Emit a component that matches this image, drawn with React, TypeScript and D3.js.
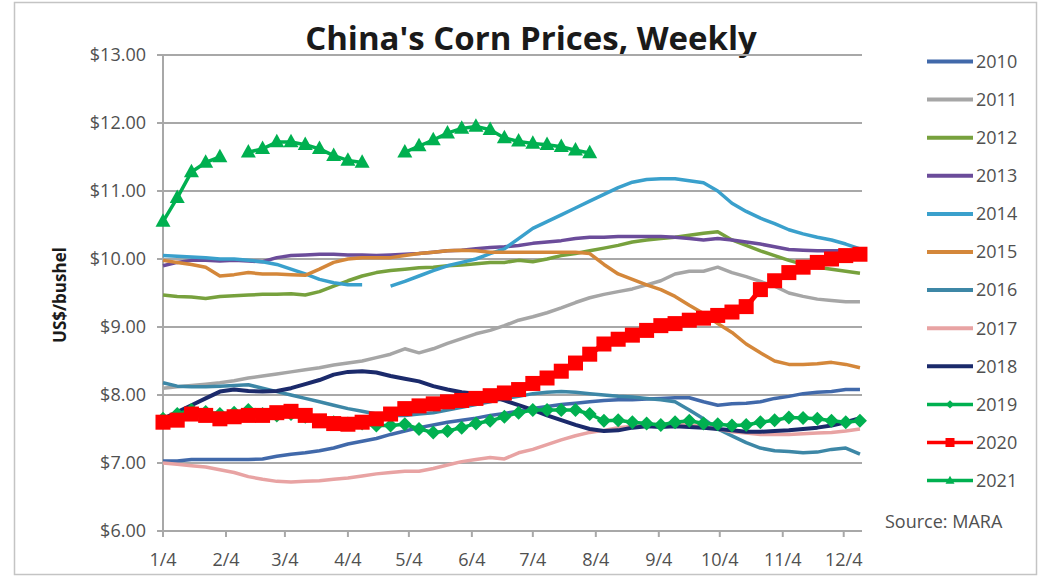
import React from "react";
import * as d3 from "d3";

// ---------- data ----------
const years = ["2010", "2011", "2012", "2013", "2014", "2015", "2016", "2017", "2018", "2019", "2020", "2021"];
const yTicks = [6, 7, 8, 9, 10, 11, 12, 13];
const xTickLabels = ["1/4", "2/4", "3/4", "4/4", "5/4", "6/4", "7/4", "8/4", "9/4", "10/4", "11/4", "12/4"];
const title = "China's Corn Prices, Weekly";
const yTitle = "US$/bushel";
const source = "Source: MARA";

// weekly values starting Jan 4 (50 weeks)
const s2010 = [7.03, 7.03, 7.05, 7.05, 7.05, 7.05, 7.05, 7.06, 7.1, 7.13, 7.15, 7.18, 7.22, 7.28, 7.32, 7.36, 7.42, 7.47, 7.52, 7.56, 7.6, 7.63, 7.66, 7.7, 7.73, 7.76, 7.8, 7.83, 7.86, 7.88, 7.9, 7.92, 7.93, 7.93, 7.94, 7.95, 7.96, 7.96, 7.9, 7.85, 7.87, 7.88, 7.9, 7.95, 7.98, 8.02, 8.04, 8.05, 8.08, 8.08];
const s2011 = [8.1, 8.12, 8.14, 8.16, 8.18, 8.21, 8.25, 8.28, 8.31, 8.34, 8.37, 8.4, 8.44, 8.47, 8.5, 8.55, 8.6, 8.68, 8.62, 8.68, 8.76, 8.83, 8.9, 8.95, 9.02, 9.1, 9.15, 9.21, 9.28, 9.36, 9.43, 9.48, 9.52, 9.56, 9.62, 9.68, 9.78, 9.82, 9.82, 9.88, 9.8, 9.74, 9.67, 9.6, 9.5, 9.45, 9.41, 9.39, 9.37, 9.37];
const s2012 = [9.47, 9.45, 9.44, 9.42, 9.45, 9.46, 9.47, 9.48, 9.48, 9.49, 9.47, 9.52, 9.6, 9.68, 9.75, 9.8, 9.83, 9.85, 9.87, 9.88, 9.9, 9.91, 9.93, 9.95, 9.95, 9.98, 9.96, 10.0, 10.05, 10.08, 10.12, 10.16, 10.2, 10.25, 10.28, 10.3, 10.32, 10.35, 10.38, 10.4, 10.28, 10.2, 10.12, 10.05, 9.98, 9.92, 9.88, 9.85, 9.82, 9.79];
const s2013 = [9.9, 9.95, 9.98, 9.98, 9.97, 9.98, 9.97, 9.96, 10.02, 10.05, 10.06, 10.07, 10.07, 10.06, 10.06, 10.05, 10.06, 10.07, 10.08, 10.1, 10.12, 10.13, 10.15, 10.17, 10.18, 10.2, 10.23, 10.25, 10.27, 10.3, 10.32, 10.32, 10.33, 10.33, 10.33, 10.33, 10.32, 10.3, 10.28, 10.3, 10.28, 10.25, 10.22, 10.18, 10.14, 10.13, 10.12, 10.12, 10.12, 10.12];
const s2014 = [10.05, 10.04, 10.03, 10.02, 10.0, 10.0, 9.98, 9.96, 9.92, 9.85, 9.78, 9.7, 9.65, 9.62, 9.62, null, 9.6, 9.67, 9.75, 9.83, 9.9, 9.95, 10.0, 10.08, 10.15, 10.3, 10.45, 10.55, 10.65, 10.75, 10.85, 10.95, 11.05, 11.13, 11.17, 11.18, 11.18, 11.15, 11.12, 11.0, 10.82, 10.7, 10.6, 10.52, 10.43, 10.37, 10.32, 10.28, 10.22, 10.15];
const s2015 = [9.98, 9.95, 9.92, 9.88, 9.75, 9.77, 9.8, 9.78, 9.78, 9.77, 9.76, 9.85, 9.95, 10.0, 10.02, 10.02, 10.02, 10.05, 10.08, 10.1, 10.12, 10.13, 10.12, 10.1, 10.1, 10.1, 10.1, 10.1, 10.1, 10.1, 10.08, 9.92, 9.78, 9.7, 9.62, 9.55, 9.45, 9.32, 9.2, 9.05, 8.92, 8.75, 8.62, 8.5, 8.45, 8.45, 8.46, 8.48, 8.45, 8.4];
const s2016 = [8.18, 8.13, 8.12, 8.12, 8.13, 8.14, 8.15, 8.1, 8.05, 8.0, 7.95, 7.9, 7.85, 7.8, 7.76, 7.72, 7.7, 7.7, 7.72, 7.74, 7.78, 7.82, 7.86, 7.9, 7.95, 7.98, 8.02, 8.04, 8.05, 8.04, 8.02, 8.0, 7.98, 7.97, 7.95, 7.93, 7.9, 7.78, 7.65, 7.5, 7.4, 7.3, 7.22, 7.18, 7.17, 7.15, 7.16, 7.2, 7.22, 7.13];
const s2017 = [7.0, 6.98, 6.96, 6.94, 6.9, 6.86, 6.8, 6.76, 6.73, 6.72, 6.73, 6.74, 6.76, 6.78, 6.81, 6.84, 6.86, 6.88, 6.88, 6.92, 6.97, 7.02, 7.05, 7.08, 7.06, 7.15, 7.2, 7.27, 7.34, 7.4, 7.45, 7.48, 7.52, 7.54, 7.56, 7.57, 7.58, 7.56, 7.54, 7.5, 7.46, 7.44, 7.42, 7.42, 7.42, 7.43, 7.44, 7.45, 7.47, 7.5];
const s2018 = [7.65, 7.75, 7.85, 7.95, 8.05, 8.08, 8.06, 8.05, 8.06, 8.1, 8.16, 8.22, 8.3, 8.34, 8.35, 8.33, 8.28, 8.24, 8.2, 8.13, 8.08, 8.04, 8.02, 7.98, 7.92, 7.85, 7.78, 7.7, 7.63, 7.56, 7.5, 7.47, 7.48, 7.52, 7.54, 7.53, 7.54, 7.53, 7.52, 7.5, 7.48, 7.46, 7.46, 7.47, 7.48, 7.5, 7.52, 7.55, 7.6, 7.66];
const s2019 = [7.65, 7.72, 7.78, 7.75, 7.72, 7.74, 7.78, 7.72, 7.7, 7.72, 7.68, 7.62, 7.6, 7.58, 7.58, 7.55, 7.55, 7.57, 7.5, 7.45, 7.47, 7.52, 7.58, 7.62, 7.68, 7.74, 7.78, 7.78, 7.78, 7.78, 7.72, 7.62, 7.63, 7.6, 7.58, 7.56, 7.6, 7.62, 7.58, 7.57, 7.55, 7.56, 7.6, 7.63, 7.67, 7.66, 7.65, 7.62, 7.6, 7.62];
const s2020 = [7.6, 7.63, 7.72, 7.7, 7.65, 7.68, 7.7, 7.7, 7.74, 7.76, 7.7, 7.62, 7.58, 7.57, 7.6, 7.65, 7.72, 7.8, 7.84, 7.87, 7.9, 7.92, 7.95, 7.99, 8.03, 8.08, 8.17, 8.25, 8.35, 8.47, 8.6, 8.75, 8.82, 8.88, 8.95, 9.02, 9.05, 9.1, 9.13, 9.17, 9.22, 9.3, 9.55, 9.68, 9.8, 9.88, 9.95, 10.0, 10.05, 10.07];
const s2021 = [10.55, 10.9, 11.28, 11.42, 11.5, null, 11.57, 11.62, 11.72, 11.72, 11.68, 11.62, 11.52, 11.45, 11.42, null, null, 11.57, 11.66, 11.75, 11.85, 11.92, 11.95, 11.9, 11.78, 11.73, 11.7, 11.68, 11.65, 11.6, 11.56];

const seriesValues = [s2010, s2011, s2012, s2013, s2014, s2015, s2016, s2017, s2018, s2019, s2020, s2021];
const colors = ["#4169AA", "#A6A6A6", "#77A13D", "#6B4C9A", "#3AA0CC", "#D4873A", "#3D87A6", "#E8A3A3", "#1B2A6B", "#00B050", "#FF0000", "#00B050"];
const markers = ["none", "none", "none", "none", "none", "none", "none", "none", "none", "diamond", "square", "triangle"];

// ---------- layout ----------
const W = 1043, H = 578;
const start = new Date(2020, 0, 4);
const end = new Date(2020, 11, 13);
const x = d3.scaleTime().domain([start, end]).range([163, 862]);
const y = d3.scaleLinear().domain([6, 13]).range([531, 55]);
const tickDates = xTickLabels.map((_, m) => new Date(2020, m, 4));
const FONT = "'Open Sans', sans-serif";

function Marker({ type, cx, cy, color, s = 1 }: { type: string; cx: number; cy: number; color: string; s?: number }) {
  if (type === "square") {
    const h = 7.5 * s;
    return <rect x={cx - h} y={cy - h} width={2 * h} height={2 * h} fill={color} />;
  }
  if (type === "diamond") {
    const h = 7 * s;
    return <path d={`M${cx},${cy - h}L${cx + h},${cy}L${cx},${cy + h}L${cx - h},${cy}Z`} fill={color} />;
  }
  if (type === "triangle") {
    const h = 7.5 * s;
    return <path d={`M${cx},${cy - h * 1.1}L${cx + h},${cy + h * 0.7}L${cx - h},${cy + h * 0.7}Z`} fill={color} />;
  }
  return null;
}

function lineWidth(i: number) {
  return i === 10 ? 5 : i === 8 ? 4 : 3.5;
}

export default function App() {
  const line = d3
    .line<number | null>()
    .defined((d) => d !== null)
    .x((_, i) => x(d3.timeDay.offset(start, 7 * i)))
    .y((d) => y(d as number));

  return (
    <svg width={W} height={H} style={{ position: "absolute", left: 0, top: 0, background: "#fff" }}>
      <rect x={14.5} y={2.5} width={1022} height={572} fill="#fff" stroke="#c4c4c4" strokeWidth={1.5} />
      <text x={531} y={50} textAnchor="middle" fontFamily={FONT} fontWeight="bold" fontSize={33} fill="#1a1a1a">
        {title}
      </text>
      {/* grid */}
      {yTicks.slice(1).map((t) => (
        <line key={t} x1={163} x2={862} y1={y(t)} y2={y(t)} stroke="#a8a8a8" strokeWidth={2} />
      ))}
      {/* axes */}
      <line x1={163} x2={163} y1={55} y2={531} stroke="#a8a8a8" strokeWidth={2} />
      <line x1={163} x2={862} y1={531} y2={531} stroke="#a8a8a8" strokeWidth={2} />
      {yTicks.map((t) => (
        <g key={t}>
          <line x1={157} x2={163} y1={y(t)} y2={y(t)} stroke="#a8a8a8" strokeWidth={2} />
          <text x={146} y={y(t)} dy="0.35em" textAnchor="end" fontFamily={FONT} fontSize={18} fill="#505050">
            {d3.format("$.2f")(t)}
          </text>
        </g>
      ))}
      {tickDates.map((d, i) => (
        <g key={i}>
          <line x1={x(d)} x2={x(d)} y1={531} y2={537} stroke="#a8a8a8" strokeWidth={2} />
          <text x={x(d)} y={566} textAnchor="middle" fontFamily={FONT} fontSize={18} fill="#505050">
            {xTickLabels[i]}
          </text>
        </g>
      ))}
      <text transform="translate(66,295) rotate(-90)" textAnchor="middle" fontFamily={FONT} fontWeight="bold" fontSize={17} fill="#1a1a1a">
        {yTitle}
      </text>
      {/* series */}
      {seriesValues.map((vals, si) => (
        <g key={years[si]}>
          <path d={line(vals) || ""} fill="none" stroke={colors[si]} strokeWidth={lineWidth(si)} strokeLinejoin="round" />
          {markers[si] !== "none" &&
            vals.map((v, i) =>
              v === null ? null : (
                <Marker key={i} type={markers[si]} cx={x(d3.timeDay.offset(start, 7 * i))} cy={y(v)} color={colors[si]} />
              )
            )}
        </g>
      ))}
      {/* legend */}
      {years.map((yr, i) => {
        const ly = 61.5 + i * 38.1;
        return (
          <g key={yr}>
            <line x1={927} x2={973} y1={ly} y2={ly} stroke={colors[i]} strokeWidth={i >= 9 ? 3.5 : 4} />
            {markers[i] !== "none" && <Marker type={markers[i]} cx={950} cy={ly} color={colors[i]} s={0.6} />}
            <text x={976} y={ly} dy="0.35em" fontFamily={FONT} fontSize={18} fill="#505050">
              {yr}
            </text>
          </g>
        );
      })}
      <text x={885} y={522} dy="0.35em" fontFamily={FONT} fontSize={18} fill="#505050">
        {source}
      </text>
    </svg>
  );
}
